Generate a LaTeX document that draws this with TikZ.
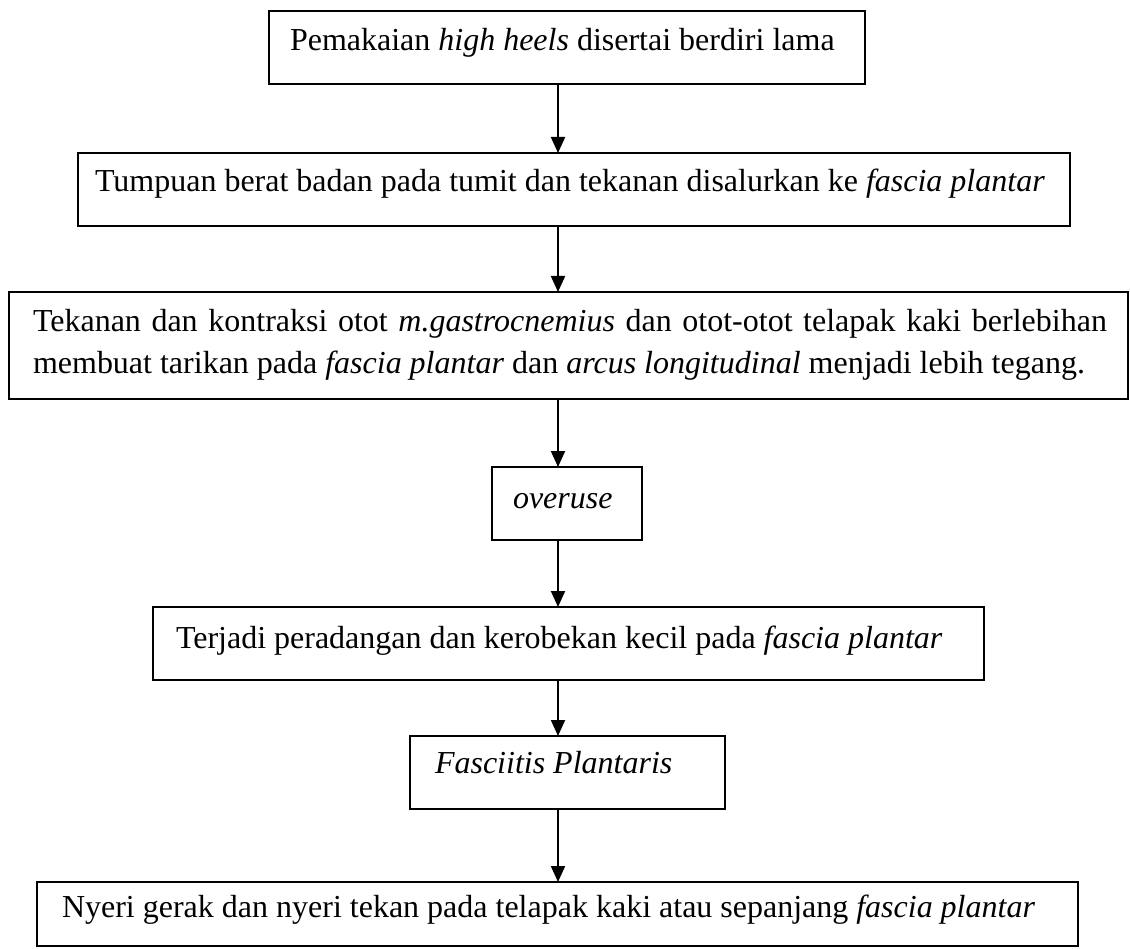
\documentclass[tikz,border=0pt]{standalone}
\usepackage{fontspec}
\setmainfont{Liberation Serif}
\usetikzlibrary{arrows.meta}
\tikzset{
  box/.style={draw=black, line width=2pt, rectangle, inner sep=0pt, outer sep=0pt, anchor=north west},
  txt/.style={anchor=base west, inner sep=0pt, outer sep=0pt, font=\fontsize{32}{42}\selectfont},
  arr/.style={draw=black, line width=2pt, -{Triangle[width=14pt,length=16pt]}}
}
\begin{document}
\begin{tikzpicture}[x=1pt,y=-1pt]
\useasboundingbox (0,0) rectangle (1130,949);
\fill[white] (0,0) rectangle (1130,949);
\coordinate (ax) at (558,0);
% boxes
\node[box, minimum width=596pt, minimum height=73pt] (b1) at (269,11) {};
\node[box, minimum width=992pt, minimum height=73pt] (b2) at (78,153) {};
\node[box, minimum width=1119pt, minimum height=107pt] (b3) at (9,292) {};
\node[box, minimum width=150pt, minimum height=73pt] (b4) at (492,467) {};
\node[box, minimum width=831pt, minimum height=73pt] (b5) at (153,607) {};
\node[box, minimum width=315pt, minimum height=73pt] (b6) at (410,736) {};
\node[box, minimum width=1041pt, minimum height=64pt] (b7) at (37,882) {};
% texts
\node[txt] (t1) at (290,51) {Pemakaian \textit{high heels} disertai berdiri lama};
\node[txt] (t2) at (95,192) {Tumpuan berat badan pada tumit dan tekanan disalurkan ke \textit{fascia plantar}};
\node[txt] (t3a) at (33,332) {\makebox[1074pt][s]{Tekanan dan kontraksi otot \textit{m.gastrocnemius} dan otot-otot telapak kaki berlebihan}};
\node[txt] (t3b) at (33,374) {membuat tarikan pada \textit{fascia plantar} dan \textit{arcus longitudinal} menjadi lebih tegang.};
\node[txt] (t4) at (513,508) {\textit{overuse}};
\node[txt] (t5) at (176,648) {Terjadi peradangan dan kerobekan kecil pada \textit{fascia plantar}};
\node[txt] (t6) at (435,773) {\textit{Fasciitis Plantaris}};
\node[txt] (t7) at (62,917) {Nyeri gerak dan nyeri tekan pada telapak kaki atau sepanjang \textit{fascia plantar}};
% connectors
\draw[arr] (b1.south -| ax) -- (b2.north -| ax);
\draw[arr] (b2.south -| ax) -- (b3.north -| ax);
\draw[arr] (b3.south -| ax) -- (b4.north -| ax);
\draw[arr] (b4.south -| ax) -- (b5.north -| ax);
\draw[arr] (b5.south -| ax) -- (b6.north -| ax);
\draw[arr] (b6.south -| ax) -- (b7.north -| ax);
\end{tikzpicture}
\end{document}
